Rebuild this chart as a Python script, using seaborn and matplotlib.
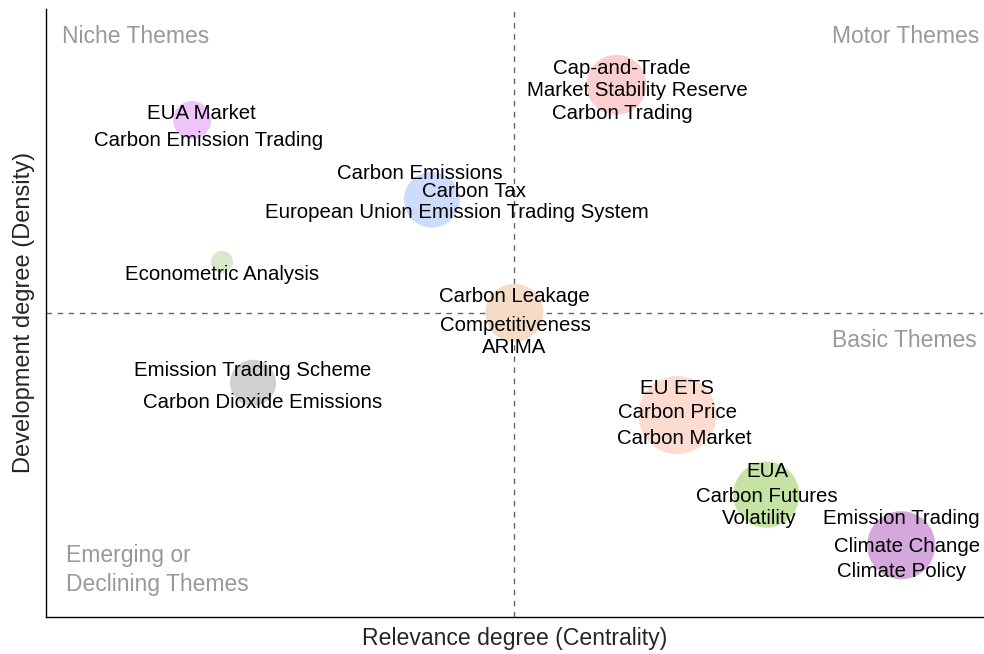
"""
Thematic map: relevance (centrality) vs development (density)
output: out.png
"""
import matplotlib
matplotlib.use("Agg")
import matplotlib.pyplot as plt
import seaborn as sns
import pandas as pd

# ---------------------------------------------
# data
# ---------------------------------------------
themes = ["Cap-and-Trade", "EUA Market", "Carbon Tax", "Econometric Analysis",
          "Carbon Leakage", "Emission Trading Scheme", "EU ETS", "EUA",
          "Emission Trading"]
centrality = [0.609, 0.156, 0.412, 0.188, 0.500, 0.221, 0.674, 0.769, 0.913]
density = [0.875, 0.817, 0.686, 0.584, 0.500, 0.385, 0.332, 0.201, 0.118]
freq = [90, 36, 78, 12, 84, 53, 152, 109, 116]

# keywords shown for each cluster
keywords = [
    ["Cap-and-Trade", "Market Stability Reserve", "Carbon Trading"],
    ["EUA Market", "Carbon Emission Trading"],
    ["Carbon Emissions", "Carbon Tax", "European Union Emission Trading System"],
    ["Econometric Analysis"],
    ["Carbon Leakage", "Competitiveness", "ARIMA"],
    ["Emission Trading Scheme", "Carbon Dioxide Emissions"],
    ["EU ETS", "Carbon Price", "Carbon Market"],
    ["EUA", "Carbon Futures", "Volatility"],
    ["Emission Trading", "Climate Change", "Climate Policy"],
]

colors = ["#fbcfcf", "#eec4fb", "#cddcfb", "#d9e8cc", "#f5dcc6",
          "#d0d0d0", "#fcdcd0", "#c4e3a5", "#d4a8dc"]

# label offsets (points) relative to bubble centre
label_offsets = [
    [(4, 12), (15, -4), (4, -21)],
    [(7, 5), (12, -15)],
    [(-9, 19), (30, 6), (18, -9)],
    [(0, -9)],
    [(0, 12), (1, -9), (0, -25)],
    [(0, 9), (7, -14)],
    [(0, 19), (0, 2), (5, -17)],
    [(1, 17), (0, -1), (-5, -17)],
    [(0, 19), (4, -1), (0, -19)],
]

df = pd.DataFrame({"theme": themes, "x": centrality, "y": density, "freq": freq})

# ---------------------------------------------
# style
# ---------------------------------------------
sns.set_theme(style="white")
plt.rcParams["font.family"] = ["Liberation Sans", "DejaVu Sans"]

fig = plt.figure(figsize=(9.84, 6.54), dpi=100)
ax = fig.add_axes([0.0467, 0.0566, 0.952, 0.93])

ax.axvline(0.5, color="#666666", linestyle=(0, (4, 4)), linewidth=1, zorder=1)
ax.axhline(0.5, color="#666666", linestyle=(0, (4, 4)), linewidth=1, zorder=1)

sns.scatterplot(data=df, x="x", y="y", hue="theme", palette=colors,
                size="freq", sizes=(251, 3154), legend=False,
                linewidth=0, alpha=1, ax=ax, zorder=2)

for i in range(len(themes)):
    for word, (dx, dy) in zip(keywords[i], label_offsets[i]):
        ax.annotate(word, xy=(centrality[i], density[i]), xytext=(dx, dy),
                    textcoords="offset points", ha="center", va="center",
                    fontsize=14.7, color="black", zorder=3)

# quadrant names
qcol = "#999999"
ax.text(0.017, 0.955, "Niche Themes", transform=ax.transAxes, fontsize=16.5,
        color=qcol, ha="left", va="center")
ax.text(0.996, 0.955, "Motor Themes", transform=ax.transAxes, fontsize=16.5,
        color=qcol, ha="right", va="center")
ax.text(0.994, 0.455, "Basic Themes", transform=ax.transAxes, fontsize=16.5,
        color=qcol, ha="right", va="center")
ax.text(0.021, 0.077, "Emerging or\nDeclining Themes", transform=ax.transAxes,
        fontsize=16.5, color=qcol, ha="left", va="center", linespacing=1.3)

ax.set_xlim(0, 1)
ax.set_ylim(0, 1)
ax.set_xticks([])
ax.set_yticks([])
ax.set_xlabel("Relevance degree (Centrality)", fontsize=16.6, labelpad=7)
ax.set_ylabel("Development degree (Density)", fontsize=17, labelpad=8)
sns.despine(ax=ax)
for s in ["left", "bottom"]:
    ax.spines[s].set_color("black")
    ax.spines[s].set_linewidth(1)

fig.savefig("out.png", dpi=100)
plt.close()
